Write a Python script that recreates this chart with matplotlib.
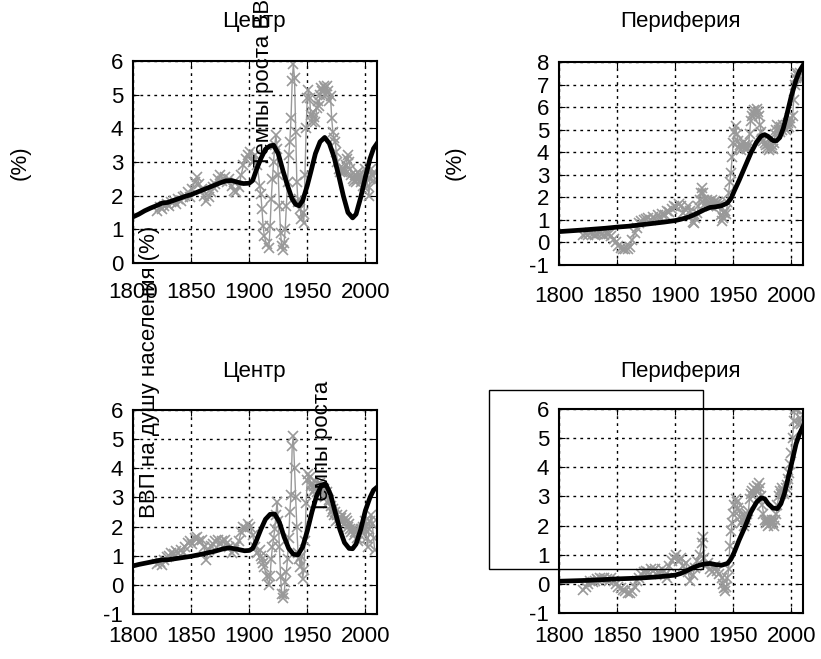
import numpy as np
import matplotlib
matplotlib.use("Agg")
import matplotlib.pyplot as plt
from matplotlib.patches import Rectangle

plt.rcParams['font.family'] = ['Liberation Sans', 'DejaVu Sans']
plt.rcParams['font.size'] = 16
plt.rcParams['axes.unicode_minus'] = False

# --- Centre, top: growth rates (gray) and trend (black)
c1_years = [1821, 1823, 1825, 1827, 1829, 1831, 1833, 1835, 1837, 1839, 1841, 1843, 1845, 1847, 1849,
            1851, 1853, 1855, 1857, 1859, 1861, 1863, 1865, 1867, 1869, 1871, 1873, 1875, 1877, 1879,
            1881, 1883, 1885, 1887, 1889, 1891, 1893, 1895, 1897, 1899, 1901, 1903, 1905, 1907, 1909,
            1910, 1911, 1912, 1913, 1915, 1917, 1918, 1919, 1920, 1921, 1922, 1923, 1924, 1925, 1926,
            1927, 1928, 1929, 1930, 1931, 1932, 1933, 1934, 1935, 1936, 1937, 1938, 1939, 1940, 1941,
            1942, 1943, 1944, 1945, 1946, 1947, 1948, 1949, 1950, 1951, 1952, 1953, 1954, 1955, 1956,
            1957, 1958, 1959, 1960, 1961, 1962, 1963, 1964, 1965, 1966, 1967, 1968, 1969, 1970, 1971,
            1972, 1973, 1974, 1975, 1976, 1977, 1978, 1979, 1980, 1981, 1982, 1983, 1984, 1985, 1986,
            1987, 1988, 1989, 1990, 1991, 1992, 1993, 1994, 1995, 1996, 1997, 1998, 1999, 2000, 2001,
            2002, 2003, 2004, 2005, 2006, 2007, 2008]
c1_rate = [1.55, 1.65, 1.6, 1.7, 1.75, 1.7, 1.8, 1.85, 1.75, 1.9, 1.85, 1.95, 2.0, 2.1, 1.95,
           2.2, 2.4, 2.55, 2.35, 2.2, 2.0, 1.85, 1.95, 2.1, 2.25, 2.35, 2.5, 2.6, 2.45, 2.55,
           2.4, 2.5, 2.3, 2.15, 2.1, 2.25, 2.6, 2.9, 3.1, 3.2, 3.3, 3.0, 3.2, 2.9, 2.3,
           2.05, 1.6, 1.1, 0.8, 0.55, 0.45, 1.1, 1.9, 2.5, 3.0, 3.5, 3.8, 3.4, 2.6, 1.7,
           0.9, 0.5, 0.4, 0.6, 1.0, 1.7, 2.4, 3.2, 3.6, 4.3, 5.4, 5.9, 5.5, 3.9, 2.4,
           1.8, 1.9, 1.6, 1.3, 1.5, 1.2, 2.6, 4.0, 4.9, 5.15, 4.9, 4.4, 4.2, 4.5, 4.35,
           4.2, 4.6, 4.8, 4.65, 5.0, 5.2, 5.1, 5.25, 5.2, 5.0, 5.25, 5.1, 4.8, 4.95, 4.3,
           3.9, 3.7, 3.6, 3.3, 3.0, 2.8, 2.7, 2.75, 2.7, 2.8, 2.7, 2.9, 3.1, 3.2, 3.0,
           2.8, 2.6, 2.5, 2.45, 2.6, 2.4, 2.5, 2.7, 2.6, 2.4, 2.5, 2.3, 2.6, 2.8, 2.6,
           2.3, 2.0, 2.5, 2.8, 2.6, 2.7, 2.4]
c1_trend_years = [1800, 1805, 1810, 1815, 1820, 1825, 1830, 1835, 1840, 1845, 1850, 1855, 1860, 1865,
                  1870, 1875, 1880, 1885, 1890, 1895, 1900, 1903, 1906, 1910, 1914, 1918, 1921, 1925,
                  1929, 1933, 1937, 1940, 1943, 1946, 1950, 1953, 1957, 1961, 1965, 1969, 1973, 1977,
                  1981, 1985, 1989, 1992, 1996, 2000, 2004, 2007, 2010]
c1_trend = [1.37, 1.45, 1.55, 1.63, 1.7, 1.78, 1.8, 1.86, 1.92, 1.98, 2.03, 2.1, 2.17, 2.24,
            2.31, 2.38, 2.44, 2.45, 2.4, 2.36, 2.37, 2.45, 2.75, 3.1, 3.38, 3.48, 3.5, 3.25,
            2.75, 2.3, 1.9, 1.74, 1.7, 1.85, 2.3, 2.7, 3.25, 3.6, 3.73, 3.55, 3.15, 2.6,
            2.0, 1.5, 1.34, 1.45, 1.95, 2.55, 3.1, 3.4, 3.55]

# --- Periphery, top
p1_years = [1821, 1823, 1825, 1827, 1829, 1831, 1833, 1835, 1837, 1839, 1841, 1843, 1845, 1847, 1849,
            1851, 1853, 1855, 1857, 1859, 1861, 1863, 1865, 1867, 1869, 1871, 1873, 1875, 1877, 1879,
            1881, 1883, 1885, 1887, 1889, 1891, 1893, 1895, 1897, 1899, 1901, 1903, 1905, 1907, 1909,
            1911, 1913, 1915, 1916, 1917, 1919, 1920, 1921, 1922, 1923, 1924, 1925, 1926, 1927, 1928,
            1929, 1930, 1931, 1932, 1933, 1934, 1935, 1936, 1937, 1938, 1939, 1940, 1941, 1942, 1943,
            1944, 1945, 1946, 1947, 1948, 1949, 1950, 1951, 1952, 1953, 1954, 1955, 1956, 1957, 1958,
            1959, 1960, 1961, 1962, 1963, 1964, 1965, 1966, 1967, 1968, 1969, 1970, 1971, 1972, 1973,
            1974, 1975, 1976, 1977, 1978, 1979, 1980, 1981, 1982, 1983, 1984, 1985, 1986, 1987, 1988,
            1989, 1990, 1991, 1992, 1993, 1994, 1995, 1996, 1997, 1998, 1999, 2000, 2001, 2002, 2003,
            2004, 2005, 2006, 2007, 2008]
p1_rate = [0.35, 0.38, 0.35, 0.4, 0.37, 0.35, 0.38, 0.4, 0.37, 0.35, 0.38, 0.36, 0.3, 0.15, 0.0,
           -0.15, -0.25, -0.3, -0.28, -0.3, -0.2, 0.1, 0.4, 0.65, 0.85, 0.95, 1.0, 1.05, 1.1, 1.0,
           1.15, 1.05, 1.2, 1.1, 1.25, 1.2, 1.4, 1.35, 1.5, 1.6, 1.55, 1.7, 1.6, 1.3, 1.45,
           1.6, 1.4, 0.9, 0.85, 1.1, 1.3, 1.6, 1.9, 2.2, 2.4, 2.2, 1.9, 1.7, 1.9, 1.6,
           1.8, 1.7, 1.6, 1.9, 1.75, 1.85, 1.7, 1.6, 1.8, 1.65, 1.2, 0.95, 1.1, 1.3, 1.4,
           1.25, 1.8, 2.2, 2.7, 3.1, 3.8, 4.4, 4.9, 5.15, 4.8, 4.5, 4.2, 4.3, 4.1, 4.25,
           4.45, 4.3, 4.2, 4.15, 4.3, 4.8, 5.4, 5.6, 5.75, 5.85, 5.7, 5.9, 5.8, 5.6, 5.2,
           4.9, 4.6, 4.5, 4.4, 4.3, 4.2, 4.35, 4.1, 4.2, 4.3, 4.15, 4.4, 4.8, 5.0, 5.2,
           5.0, 4.9, 5.1, 5.0, 5.2, 5.1, 5.0, 5.2, 5.3, 5.1, 5.5, 5.3, 5.6, 6.3, 7.0,
           7.3, 7.5, 7.4, 7.5, 7.2]
p1_trend_years = [1800, 1820, 1840, 1850, 1860, 1870, 1880, 1890, 1900, 1905, 1910, 1915, 1920, 1925,
                  1930, 1935, 1940, 1945, 1948, 1951, 1955, 1960, 1965, 1970, 1974, 1977, 1980, 1984,
                  1987, 1990, 1993, 1996, 2000, 2004, 2007, 2010]
p1_trend = [0.48, 0.55, 0.63, 0.68, 0.72, 0.78, 0.84, 0.9, 0.97, 1.03, 1.1, 1.2, 1.32, 1.45,
            1.55, 1.58, 1.63, 1.75, 1.95, 2.3, 2.75, 3.35, 3.95, 4.45, 4.72, 4.78, 4.7, 4.52,
            4.5, 4.65, 5.05, 5.65, 6.5, 7.2, 7.6, 7.85]

# --- Centre, bottom
c2_years = c1_years
c2_rate = [0.7, 0.8, 0.68, 0.85, 0.95, 1.0, 1.1, 1.05, 1.15, 1.1, 1.2, 1.1, 1.3, 1.45, 1.5,
           1.4, 1.6, 1.65, 1.5, 1.55, 1.3, 0.85, 1.2, 1.35, 1.4, 1.5, 1.55, 1.4, 1.5, 1.55,
           1.45, 1.3, 1.1, 1.2, 1.35, 1.5, 1.8, 2.0, 1.9, 2.1, 2.0, 1.7, 1.3, 1.1, 1.2,
           1.0, 0.9, 0.75, 0.6, 0.3, 0.0, 0.3, 0.9, 1.3, 1.6, 1.9, 2.4, 2.85, 2.2, 1.3,
           0.3, -0.3, -0.45, -0.3, 0.1, 0.45, 0.9, 1.6, 2.5, 3.1, 4.75, 5.1, 4.0, 3.0, 2.0,
           1.1, 0.9, 0.6, 1.0, 0.2, 0.5, 1.5, 2.8, 3.6, 3.8, 3.7, 3.4, 3.5, 3.2, 3.4,
           3.3, 3.2, 3.45, 3.3, 3.5, 3.4, 3.2, 3.3, 3.0, 3.1, 3.2, 2.8, 2.9, 2.7, 2.5,
           2.6, 2.4, 2.5, 2.2, 2.4, 2.3, 2.2, 2.3, 2.4, 2.2, 2.1, 2.3, 2.2, 2.0, 2.1,
           1.9, 1.8, 1.9, 1.7, 1.8, 1.9, 1.6, 1.5, 1.7, 1.9, 1.8, 2.0, 1.9, 2.2, 1.6,
           1.3, 1.9, 2.2, 2.4, 2.1, 1.6, 1.2]
c2_trend_years = [1800, 1805, 1810, 1815, 1820, 1825, 1830, 1840, 1850, 1860, 1870, 1878, 1883, 1890,
                  1896, 1900, 1903, 1906, 1910, 1914, 1918, 1922, 1926, 1930, 1934, 1938, 1942, 1946,
                  1950, 1954, 1958, 1962, 1966, 1970, 1974, 1978, 1982, 1986, 1989, 1992, 1996, 2000,
                  2004, 2007, 2010]
c2_trend = [0.65, 0.7, 0.74, 0.78, 0.82, 0.86, 0.86, 0.92, 0.98, 1.06, 1.15, 1.24, 1.27, 1.22,
            1.17, 1.18, 1.25, 1.5, 1.9, 2.25, 2.42, 2.43, 2.15, 1.65, 1.25, 1.05, 1.03, 1.3,
            1.85, 2.5, 3.05, 3.4, 3.45, 3.1, 2.5, 1.9, 1.45, 1.25, 1.24, 1.4, 1.9, 2.55,
            3.0, 3.25, 3.35]

# --- Periphery, bottom
p2_years = [1821, 1823, 1825, 1827, 1829, 1831, 1833, 1835, 1837, 1839, 1841, 1843, 1845, 1847, 1849,
            1851, 1853, 1855, 1857, 1859, 1861, 1863, 1865, 1867, 1869, 1871, 1873, 1875, 1877, 1879,
            1881, 1883, 1885, 1887, 1889, 1891, 1893, 1895, 1897, 1899, 1901, 1903, 1905, 1907, 1909,
            1911, 1913, 1915, 1917, 1919, 1921, 1923, 1924, 1925, 1926, 1928, 1930, 1932, 1934, 1936,
            1938, 1940, 1941, 1942, 1943, 1944, 1945, 1946, 1947, 1948, 1949, 1950, 1951, 1952, 1953,
            1954, 1955, 1956, 1957, 1958, 1959, 1960, 1961, 1962, 1963, 1964, 1965, 1966, 1967, 1968,
            1969, 1970, 1971, 1972, 1973, 1974, 1975, 1976, 1977, 1978, 1979, 1980, 1981, 1982, 1983,
            1984, 1985, 1986, 1987, 1988, 1989, 1990, 1991, 1992, 1993, 1994, 1995, 1996, 1997, 1998,
            1999, 2000, 2001, 2002, 2003, 2004, 2005, 2006, 2007, 2008]
p2_rate = [-0.2, -0.1, 0.0, 0.1, 0.05, 0.1, 0.15, 0.2, 0.15, 0.2, 0.15, 0.1, 0.2, 0.1, 0.0,
           -0.1, -0.15, -0.2, -0.25, -0.3, -0.3, -0.25, -0.1, 0.1, 0.2, 0.35, 0.4, 0.45, 0.4, 0.5,
           0.45, 0.5, 0.4, 0.35, 0.5, 0.3, 0.2, 0.6, 0.8, 0.9, 1.0, 0.8, 0.9, 0.6, 0.7,
           0.4, 0.1, 0.3, 0.55, 0.8, 1.0, 1.4, 1.6, 0.9, 0.6, 0.7, 0.5, 0.4, 0.6, 0.45,
           0.35, 0.2, 0.0, -0.15, -0.25, -0.1, 0.2, 0.5, 1.3, 1.8, 2.1, 2.4, 2.7, 2.9, 2.8,
           2.6, 2.5, 2.3, 2.1, 2.2, 2.0, 2.3, 2.2, 2.4, 2.5, 2.9, 3.1, 3.2, 3.0, 3.3,
           3.1, 3.35, 3.2, 3.45, 3.3, 3.0, 2.7, 2.4, 2.2, 2.1, 2.2, 2.0, 2.15, 2.05, 2.2,
           2.1, 2.0, 2.2, 2.4, 2.7, 3.0, 3.2, 3.1, 3.3, 3.2, 3.1, 3.3, 3.4, 3.6, 3.8,
           4.1, 4.5, 5.0, 5.6, 6.0, 6.0, 6.0, 5.5, 5.7, 5.5]
p2_trend_years = [1800, 1825, 1850, 1870, 1885, 1900, 1905, 1910, 1915, 1920, 1925, 1930, 1935, 1940,
                  1945, 1948, 1951, 1955, 1960, 1965, 1970, 1974, 1977, 1980, 1984, 1988, 1991, 1994,
                  1997, 2000, 2004, 2007, 2010]
p2_trend = [0.09, 0.12, 0.17, 0.2, 0.24, 0.3, 0.36, 0.45, 0.55, 0.63, 0.68, 0.7, 0.66, 0.64,
            0.7, 0.85, 1.1, 1.5, 1.95, 2.45, 2.8, 2.95, 2.92, 2.75, 2.6, 2.58, 2.75, 3.1,
            3.6, 4.1, 4.8, 5.15, 5.4]

W, H = 821, 659
fig = plt.figure(figsize=(W / 100, H / 100), dpi=100)


def px(x, y):
    return x / W, 1 - y / H


def panel(rect, yrs, rate, tyrs, trend, ymin, ymax, xpad):
    ax = fig.add_axes(rect)
    ax.plot(yrs, rate, color='0.6', lw=1, marker='x', ms=7, mew=1.2)
    ax.plot(tyrs, trend, color='black', lw=3.4)
    ax.set_xlim(1800, 2010)
    ax.set_ylim(ymin, ymax)
    ax.set_xticks([1800, 1850, 1900, 1950, 2000])
    ax.set_yticks(range(ymin, ymax + 1))
    ax.grid(True, color='black', linestyle=(0, (2, 3)), lw=1)
    ax.tick_params(direction='in', length=4, top=True, right=True, labelsize=16)
    ax.tick_params(axis='x', pad=xpad)
    ax.tick_params(axis='y', pad=7)
    for s in ax.spines.values():
        s.set_linewidth(1.5)
    return ax


panel([133 / W, 1 - 263 / H, 244 / W, 202 / H], c1_years, c1_rate, c1_trend_years, c1_trend, 0, 6, 14)
panel([559 / W, 1 - 265 / H, 244 / W, 203 / H], p1_years, p1_rate, p1_trend_years, p1_trend, -1, 8, 15)
panel([133 / W, 1 - 614 / H, 244 / W, 204 / H], c2_years, c2_rate, c2_trend_years, c2_trend, -1, 6, 9)
panel([559 / W, 1 - 613 / H, 244 / W, 204 / H], p2_years, p2_rate, p2_trend_years, p2_trend, -1, 6, 9)

# titles
fig.text(*px(254, 27), 'Центр', ha='center', va='baseline')
fig.text(*px(680, 27), 'Периферия', ha='center', va='baseline')
fig.text(*px(254, 377), 'Центр', ha='center', va='baseline')
fig.text(*px(680, 377), 'Периферия', ha='center', va='baseline')

# y labels and stray labels
fig.text(*px(20, 163), '(%)', rotation=90, ha='center', va='center')
fig.text(*px(455, 163), '(%)', rotation=90, ha='center', va='center')
fig.text(*px(263, 167), 'Темпы роста ВВП на душу населения (%)', rotation=90, ha='center', va='bottom')
fig.text(*px(150, 518), 'ВВП на душу населения (%)', rotation=90, ha='center', va='bottom')
fig.text(*px(322, 513), 'Темпы роста', rotation=90, ha='center', va='bottom')

# empty legend box
x0, y0 = px(489, 569)
x1, y1 = px(703, 390)
fig.patches.append(Rectangle((x0, y0), x1 - x0, y1 - y0, transform=fig.transFigure,
                             fill=False, edgecolor='black', lw=1))

fig.savefig('out.png', dpi=100)
